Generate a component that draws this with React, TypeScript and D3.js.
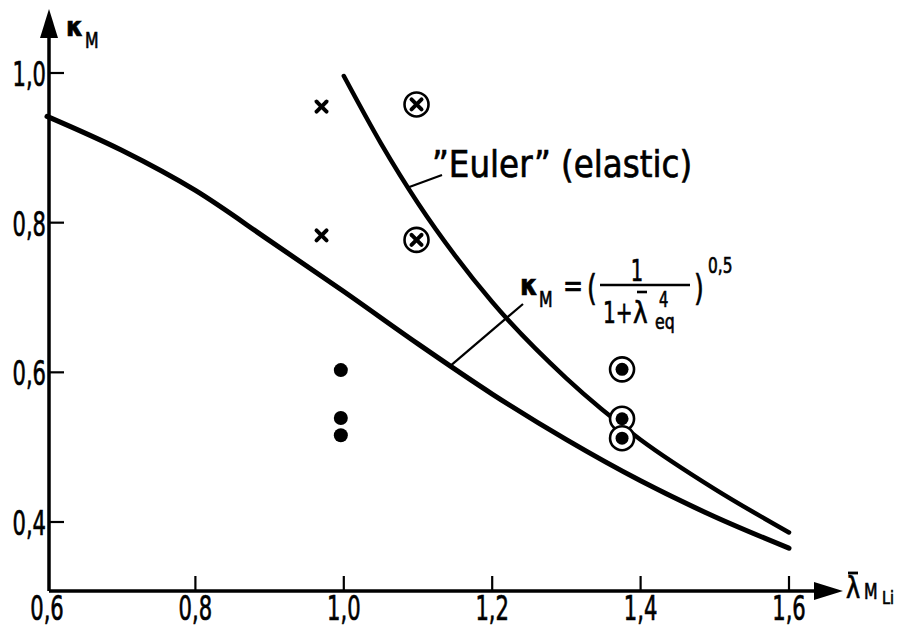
import * as d3 from 'd3';
import React from 'react';

// tick values on the axes
const xTicks = [0.6, 0.8, 1.0, 1.2, 1.4, 1.6];
const yTicks = [0.4, 0.6, 0.8, 1.0];

// lower curve: kappa_M = (1/(1+lambda^4))^0.5
const lowerLambda = [0.6, 0.7, 0.8, 0.9, 1.0, 1.1, 1.2, 1.3, 1.4, 1.5, 1.6];
const lowerKappa = [0.942, 0.897, 0.843, 0.776, 0.708, 0.638, 0.571, 0.51, 0.455, 0.407, 0.365];

// "Euler" (elastic) curve
const eulerLambda = [1.0, 1.05, 1.1, 1.15, 1.2, 1.3, 1.4, 1.5, 1.6];
const eulerKappa = [0.996, 0.906, 0.826, 0.756, 0.694, 0.592, 0.51, 0.444, 0.386];

// test points
const crossLambda = [0.97, 0.97];
const crossKappa = [0.955, 0.783];
const circledCrossLambda = [1.098, 1.098];
const circledCrossKappa = [0.958, 0.777];
const dotLambda = [0.996, 0.996, 0.996];
const dotKappa = [0.603, 0.539, 0.516];
const circledDotLambda = [1.375, 1.375, 1.375];
const circledDotKappa = [0.604, 0.538, 0.512];

const W = 909;
const H = 631;
const font = "'DejaVu Sans', sans-serif";

const x = d3.scaleLinear().domain([0.6, 1.6]).range([47, 789]);
const y = d3.scaleLinear().domain([1.0, 0.4]).range([73, 522]);

const axisX0 = 49;
const axisY0 = 591;

function zip(a: number[], b: number[]) {
  return a.map((v, i) => [v, b[i]] as [number, number]);
}

const fmt = (t: number) => d3.format('.1f')(t).replace('.', ',');

// narrow text, the drawing uses a condensed technical lettering
function NText(props: {
  x: number;
  y: number;
  size: number;
  sx?: number;
  anchor?: string;
  bold?: boolean;
  children: React.ReactNode;
}) {
  const { x, y, size, sx = 0.65, anchor = 'start', bold, children } = props;
  return (
    <text
      transform={`translate(${x},${y}) scale(${sx},1)`}
      textAnchor={anchor}
      fontSize={size}
      fontWeight={bold ? 'bold' : 'normal'}
      fill="#000"
      stroke="#000"
      strokeWidth={0.7}
    >
      {children}
    </text>
  );
}

export default function App() {
  const line = d3
    .line<[number, number]>()
    .x((d) => x(d[0]))
    .y((d) => y(d[1]))
    .curve(d3.curveMonotoneX);

  const lowerPath = line(zip(lowerLambda, lowerKappa)) || '';
  const eulerPath = line(zip(eulerLambda, eulerKappa)) || '';

  // leader line anchor points on the curves
  const eulerAnchor = [1.0865, 0.847];
  const formulaAnchor = [1.144, 0.609];

  return (
    <svg
      width={W}
      height={H}
      style={{ position: 'absolute', left: 0, top: 0, background: '#fff' }}
      fontFamily={font}
    >
      {/* axes */}
      <g stroke="#000" strokeWidth={3.5} fill="none">
        <line x1={axisX0} y1={axisY0} x2={818} y2={axisY0} />
        <line x1={axisX0} y1={axisY0} x2={axisX0} y2={34} />
      </g>
      <path d={`M843,${axisY0} L814,${axisY0 - 9} L814,${axisY0 + 9} Z`} fill="#000" />
      <path d={`M${axisX0},9 L${axisX0 - 9},38 L${axisX0 + 9},38 Z`} fill="#000" />

      {/* ticks */}
      <g stroke="#000" strokeWidth={2.2}>
        {xTicks.slice(1).map((t) => (
          <line key={t} x1={x(t)} x2={x(t)} y1={axisY0} y2={axisY0 - 15} />
        ))}
        {yTicks.map((t) => (
          <line key={t} x1={axisX0} x2={axisX0 + 15} y1={y(t)} y2={y(t)} />
        ))}
      </g>
      {xTicks.map((t) => (
        <NText key={t} x={x(t)} y={620} size={33} sx={0.64} anchor="middle">
          {fmt(t)}
        </NText>
      ))}
      {yTicks.map((t) => (
        <NText key={t} x={46} y={y(t) + 13} size={34} sx={0.62} anchor="end">
          {fmt(t)}
        </NText>
      ))}

      {/* axis titles */}
      <NText x={66} y={36} size={27} sx={0.9} bold>κ</NText>
      <NText x={85} y={48} size={21} sx={0.75}>M</NText>
      <NText x={846} y={598} size={30} sx={0.8}>λ</NText>
      <line x1={848} x2={858} y1={573} y2={573} stroke="#000" strokeWidth={2.8} />
      <NText x={864} y={599} size={21} sx={0.75}>M</NText>
      <NText x={882} y={604} size={18} sx={0.8}>Li</NText>

      {/* curves */}
      <path d={lowerPath} fill="none" stroke="#000" strokeWidth={5} strokeLinecap="round" />
      <path d={eulerPath} fill="none" stroke="#000" strokeWidth={4.5} strokeLinecap="round" />

      {/* markers */}
      <g stroke="#000" strokeWidth={4} strokeLinecap="round">
        {crossLambda.map((l, i) => (
          <g key={i} transform={`translate(${x(l)},${y(crossKappa[i])})`}>
            <line x1={-5} y1={-5} x2={5} y2={5} />
            <line x1={-5} y1={5} x2={5} y2={-5} />
          </g>
        ))}
        {circledCrossLambda.map((l, i) => (
          <g key={i} transform={`translate(${x(l)},${y(circledCrossKappa[i])})`}>
            <circle r={12} fill="#fff" strokeWidth={2.6} />
            <line x1={-5} y1={-5} x2={5} y2={5} />
            <line x1={-5} y1={5} x2={5} y2={-5} />
          </g>
        ))}
      </g>
      {dotLambda.map((l, i) => (
        <circle key={i} cx={x(l)} cy={y(dotKappa[i])} r={7} fill="#000" />
      ))}
      {circledDotLambda.map((l, i) => (
        <g key={i} transform={`translate(${x(l)},${y(circledDotKappa[i])})`}>
          <circle r={12} fill="#fff" stroke="#000" strokeWidth={2.6} />
          <circle r={6.5} fill="#000" />
        </g>
      ))}

      {/* Euler label */}
      <line
        x1={x(eulerAnchor[0])}
        y1={y(eulerAnchor[1])}
        x2={442}
        y2={175}
        stroke="#000"
        strokeWidth={2.2}
      />
      <NText x={432} y={177} size={37} sx={0.88}>
        ”Euler” (elastic)
      </NText>

      {/* formula label */}
      <line
        x1={x(formulaAnchor[0])}
        y1={y(formulaAnchor[1])}
        x2={523}
        y2={304}
        stroke="#000"
        strokeWidth={2.2}
      />
      <NText x={520} y={295} size={28} sx={0.9} bold>κ</NText>
      <NText x={539} y={307} size={21} sx={0.75}>M</NText>
      <NText x={563} y={297} size={32} sx={0.75}>=</NText>
      <NText x={587} y={300} size={36} sx={0.7}>(</NText>
      <NText x={637} y={281} size={30} sx={0.65} anchor="middle">1</NText>
      <line x1={600} x2={690} y1={285} y2={285} stroke="#000" strokeWidth={2.6} />
      <NText x={603} y={323} size={31} sx={0.65}>1+</NText>
      <NText x={633} y={323} size={31} sx={0.8}>λ</NText>
      <line x1={637} x2={647} y1={292} y2={292} stroke="#000" strokeWidth={2.6} />
      <NText x={659} y={307} size={21} sx={0.7}>4</NText>
      <NText x={655} y={329} size={21} sx={0.75}>eq</NText>
      <NText x={694} y={300} size={36} sx={0.7}>)</NText>
      <NText x={708} y={273} size={22} sx={0.7}>0,5</NText>
    </svg>
  );
}
